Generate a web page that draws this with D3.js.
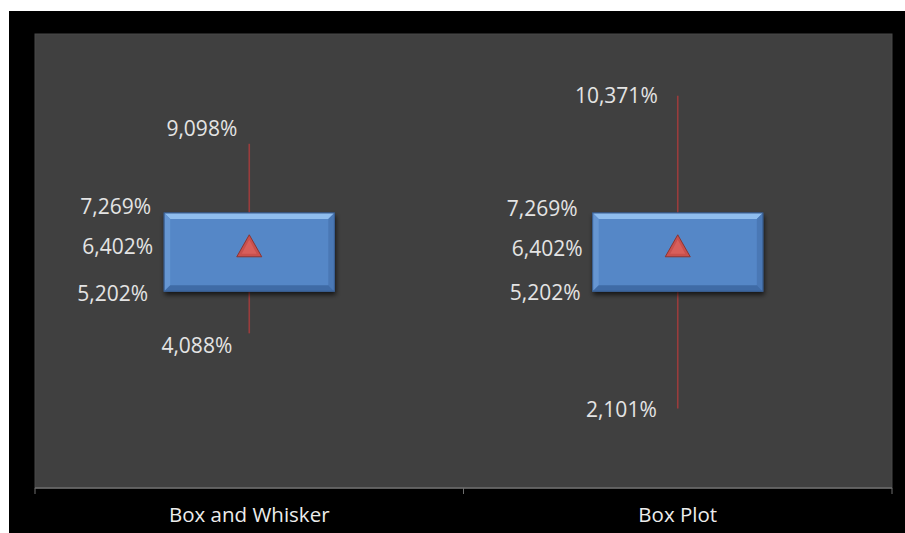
<!DOCTYPE html>
<html>
<head>
<meta charset="utf-8">
<script src="https://cdn.jsdelivr.net/npm/d3@7"></script>
<style>
  html, body { margin: 0; padding: 0; background: #ffffff; }
  svg { display: block; }
</style>
</head>
<body>
<svg id="chart" width="905" height="533"></svg>
<script>
// Summary statistics per category (percent)
const categories = ["Box and Whisker", "Box Plot"];
const maxValues  = [9.098, 10.371];
const q3Values   = [7.269, 7.269];
const meanValues = [6.402, 6.402];
const q1Values   = [5.202, 5.202];
const minValues  = [4.088, 2.101];
const yDomain    = [0, 12];

const frame = { x: 9, y: 11, w: 896, h: 522 };
const plot = { left: 35, top: 34, right: 892, bottom: 488 };

const svg = d3.select("#chart");
const defs = svg.append("defs");

// soft shadow under the boxes
const shadow = defs.append("filter").attr("id", "boxShadow")
  .attr("x", "-10%").attr("y", "-10%").attr("width", "125%").attr("height", "140%");
shadow.append("feGaussianBlur").attr("in", "SourceAlpha").attr("stdDeviation", 2.5).attr("result", "b");
shadow.append("feOffset").attr("in", "b").attr("dx", 1).attr("dy", 3).attr("result", "o");
shadow.append("feComponentTransfer").attr("in", "o").attr("result", "s")
  .append("feFuncA").attr("type", "linear").attr("slope", 0.7);
const merge = shadow.append("feMerge");
merge.append("feMergeNode").attr("in", "s");
merge.append("feMergeNode").attr("in", "SourceGraphic");

// chart background and plot area
svg.append("rect").attr("x", frame.x).attr("y", frame.y)
  .attr("width", frame.w).attr("height", frame.h).attr("fill", "#000000");
svg.append("rect").attr("x", plot.left).attr("y", plot.top)
  .attr("width", plot.right - plot.left).attr("height", plot.bottom - plot.top)
  .attr("fill", "#404040").attr("stroke", "#484848").attr("stroke-width", 1);

const x = d3.scaleBand().domain(categories).range([plot.left, plot.right]).padding(0);
const y = d3.scaleLinear().domain(yDomain).range([plot.bottom, plot.top]);

const locale = d3.formatLocale({ decimal: ",", thousands: ".", grouping: [3], currency: ["", ""] });
const fmt = v => locale.format(".3f")(v) + "%";

const data = categories.map((c, i) => ({
  cat: c, max: maxValues[i], q3: q3Values[i], mean: meanValues[i], q1: q1Values[i], min: minValues[i]
}));

const boxW = x.bandwidth() * 0.397;
const bevel = 6;

const g = svg.append("g");

// whiskers
g.selectAll("line.whisker").data(data).join("line")
  .attr("class", "whisker")
  .attr("x1", d => x(d.cat) + x.bandwidth() / 2)
  .attr("x2", d => x(d.cat) + x.bandwidth() / 2)
  .attr("y1", d => y(d.max))
  .attr("y2", d => y(d.min))
  .attr("stroke", "#9a3c3c").attr("stroke-width", 1.6);

// boxes with bevelled edges
const boxes = g.selectAll("g.box").data(data).join("g").attr("class", "box");
boxes.each(function (d) {
  const cx = x(d.cat) + x.bandwidth() / 2;
  const x0 = cx - boxW / 2, x1 = cx + boxW / 2;
  const y0 = y(d.q3), y1 = y(d.q1);
  const b = d3.select(this);
  b.append("rect").attr("x", x0).attr("y", y0).attr("width", x1 - x0).attr("height", y1 - y0)
    .attr("fill", "#5587c7").attr("stroke", "#35598a").attr("stroke-width", 1)
    .attr("filter", "url(#boxShadow)");
  const poly = (pts, fill) => b.append("polygon").attr("points", pts.map(p => p.join(",")).join(" ")).attr("fill", fill);
  poly([[x0, y0], [x1, y0], [x1 - bevel, y0 + bevel], [x0 + bevel, y0 + bevel]], "#8fbdee");
  poly([[x0, y0], [x0 + bevel, y0 + bevel], [x0 + bevel, y1 - bevel], [x0, y1]], "#6696d2");
  poly([[x1, y0], [x1, y1], [x1 - bevel, y1 - bevel], [x1 - bevel, y0 + bevel]], "#4a78b5");
  poly([[x0, y1], [x0 + bevel, y1 - bevel], [x1 - bevel, y1 - bevel], [x1, y1]], "#3f6ba6");
  b.append("rect").attr("x", x0).attr("y", y0).attr("width", x1 - x0).attr("height", y1 - y0)
    .attr("fill", "none").attr("stroke", "#3a5f92").attr("stroke-width", 1);
});

// mean markers (triangles)
const tri = 25, triH = 22;
const marks = g.selectAll("g.mean").data(data).join("g").attr("class", "mean");
marks.each(function (d) {
  const cx = x(d.cat) + x.bandwidth() / 2, cy = y(d.mean);
  const m = d3.select(this);
  const top = [cx, cy - triH / 2], l = [cx - tri / 2, cy + triH / 2], r = [cx + tri / 2, cy + triH / 2];
  m.append("polygon").attr("points", [top, r, l].map(p => p.join(",")).join(" "))
    .attr("fill", "#c9504d").attr("stroke", "#8a3532").attr("stroke-width", 1);
  m.append("polygon").attr("points", [[cx, cy - triH / 2 + 5], [cx + tri / 2 - 5, cy + triH / 2 - 3], [cx - tri / 2 + 5, cy + triH / 2 - 3]].map(p => p.join(",")).join(" "))
    .attr("fill", "#d85f5b");
});

// data labels, placed to the left of each point
const labelOffsets = {
  max:  [[-12, -15], [-20, 0]],
  q3:   [[-13, -7], [-15, -5]],
  mean: [[-11, 1], [-10, 3]],
  q1:   [[-16, 2], [-12, 1]],
  min:  [[-17, 12], [-21, 1]]
};
const labels = [];
data.forEach((d, i) => {
  const cx = x(d.cat) + x.bandwidth() / 2;
  const bx = cx - boxW / 2;
  labels.push({ v: d.max,  ax: cx, off: labelOffsets.max[i] });
  labels.push({ v: d.q3,   ax: bx, off: labelOffsets.q3[i] });
  labels.push({ v: d.mean, ax: bx, off: labelOffsets.mean[i] });
  labels.push({ v: d.q1,   ax: bx, off: labelOffsets.q1[i] });
  labels.push({ v: d.min,  ax: cx, off: labelOffsets.min[i] });
});
g.selectAll("text.lbl").data(labels).join("text")
  .attr("class", "lbl")
  .attr("x", d => d.ax + d.off[0])
  .attr("y", d => y(d.v) + d.off[1])
  .attr("dy", "0.36em")
  .attr("text-anchor", "end")
  .attr("font-family", "'Open Sans', sans-serif")
  .attr("font-size", 21)
  .attr("fill", "#e4e4e4")
  .text(d => fmt(d.v));

// category axis
const axis = svg.append("g").attr("transform", `translate(0,${plot.bottom})`);
axis.append("line").attr("x1", plot.left).attr("x2", plot.right).attr("y1", 0).attr("y2", 0)
  .attr("stroke", "#6e6e6e").attr("stroke-width", 1.5);
const tickX = [plot.left].concat(categories.map(c => x(c) + x.bandwidth()));
axis.selectAll("line.tick").data(tickX).join("line")
  .attr("class", "tick")
  .attr("x1", d => d).attr("x2", d => d).attr("y1", 0).attr("y2", 6)
  .attr("stroke", "#6e6e6e").attr("stroke-width", 1);
axis.selectAll("text.cat").data(categories).join("text")
  .attr("class", "cat")
  .attr("x", d => x(d) + x.bandwidth() / 2)
  .attr("y", 34)
  .attr("text-anchor", "middle")
  .attr("font-family", "'Open Sans', sans-serif")
  .attr("font-size", 20.5)
  .attr("fill", "#ececec")
  .text(d => d);
</script>
</body>
</html>
